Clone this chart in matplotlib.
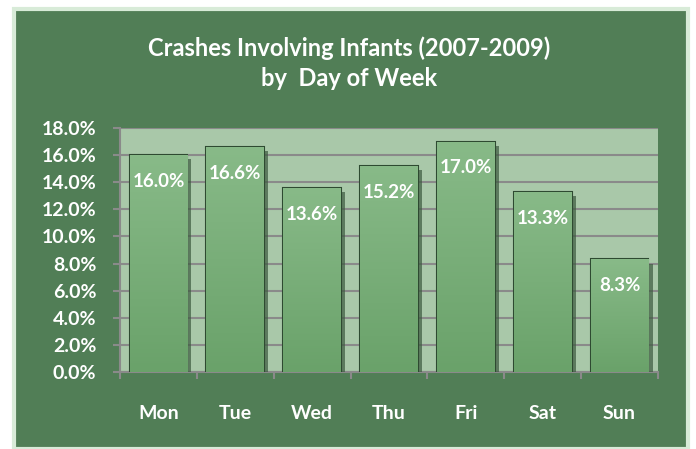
import numpy as np
import matplotlib
matplotlib.use("Agg")
from matplotlib import pyplot as plt
from matplotlib.patches import Rectangle
import matplotlib.patheffects as pe

days = ['Mon', 'Tue', 'Wed', 'Thu', 'Fri', 'Sat', 'Sun']
pct = [16.0, 16.6, 13.6, 15.2, 17.0, 13.3, 8.3]
yticks = [0, 2, 4, 6, 8, 10, 12, 14, 16, 18]

plt.rcParams['font.family'] = ['Lato', 'DejaVu Sans']

fig = plt.figure(figsize=(6.96, 4.49), dpi=100, facecolor='white')

# green panel behind everything
panel = Rectangle((14 / 696, 0), 674 / 696, 1 - 9 / 449, transform=fig.transFigure,
                  facecolor='#517e56', edgecolor='#d8ebd8', linewidth=3, zorder=-10)
fig.add_artist(panel)

ax = fig.add_axes([120 / 696, 1 - 372 / 449, 538 / 696, 244 / 449])
ax.set_facecolor('#a9c8a9')

x = np.arange(len(days))
bars = ax.bar(x, pct, width=0.75, color='#74a974', edgecolor='#2e4a31', linewidth=1.5, zorder=3)
cmap = matplotlib.colors.LinearSegmentedColormap.from_list('g', ['#6aa26a', '#88ba88'])
grad = np.linspace(0, 1, 100).reshape(-1, 1)
for b in bars:
    b.set_path_effects([pe.SimplePatchShadow(offset=(3, -3), shadow_rgbFace='#3c5a3f', alpha=0.7),
                        pe.Normal()])
    # vertical gradient, lighter at top
    x0, w, h = b.get_x(), b.get_width(), b.get_height()
    im = ax.imshow(grad, extent=[x0, x0 + w, 0, h], origin='lower', cmap=cmap,
                   aspect='auto', zorder=3.5)
    im.set_clip_path(b)

for xi, v in zip(x, pct):
    ax.annotate(f'{v:.1f}%', (xi, v), xytext=(0, -19), textcoords='offset points',
                ha='center', va='center', color='white', fontsize=13.5, fontweight='bold', zorder=5)

ax.set_xlim(-0.5, len(days) - 0.5)
ax.set_ylim(0, 18)
ax.set_yticks(yticks)
ax.set_yticklabels([f'{t:.1f}%' for t in yticks])
ax.yaxis.grid(True, color='#8a8a8a', linewidth=1.5, zorder=1)
ax.set_axisbelow(True)

ax.set_xticks(x)
ax.set_xticklabels(days)
ax.set_xticks(np.arange(len(days) + 1) - 0.5, minor=True)
ax.tick_params(axis='x', which='major', length=0, pad=24, labelsize=14, labelcolor='white')
ax.tick_params(axis='x', which='minor', length=5, width=1.5, color='#8a8a8a')
ax.tick_params(axis='y', length=5, width=1.5, color='#8a8a8a', labelsize=14, labelcolor='white', pad=12)
for lab in ax.get_xticklabels() + ax.get_yticklabels():
    lab.set_fontweight('bold')

for s in ['top', 'right']:
    ax.spines[s].set_visible(False)
for s in ['left', 'bottom']:
    ax.spines[s].set_color('#8a8a8a')
    ax.spines[s].set_linewidth(1.5)

fig.text(349 / 696, 1 - 48 / 449, 'Crashes Involving Infants (2007-2009)', ha='center', va='center',
         color='white', fontsize=17, fontweight='bold')
fig.text(349 / 696, 1 - 79 / 449, 'by  Day of Week', ha='center', va='center',
         color='white', fontsize=17, fontweight='bold')

fig.savefig('out.png', dpi=100, facecolor='white')
